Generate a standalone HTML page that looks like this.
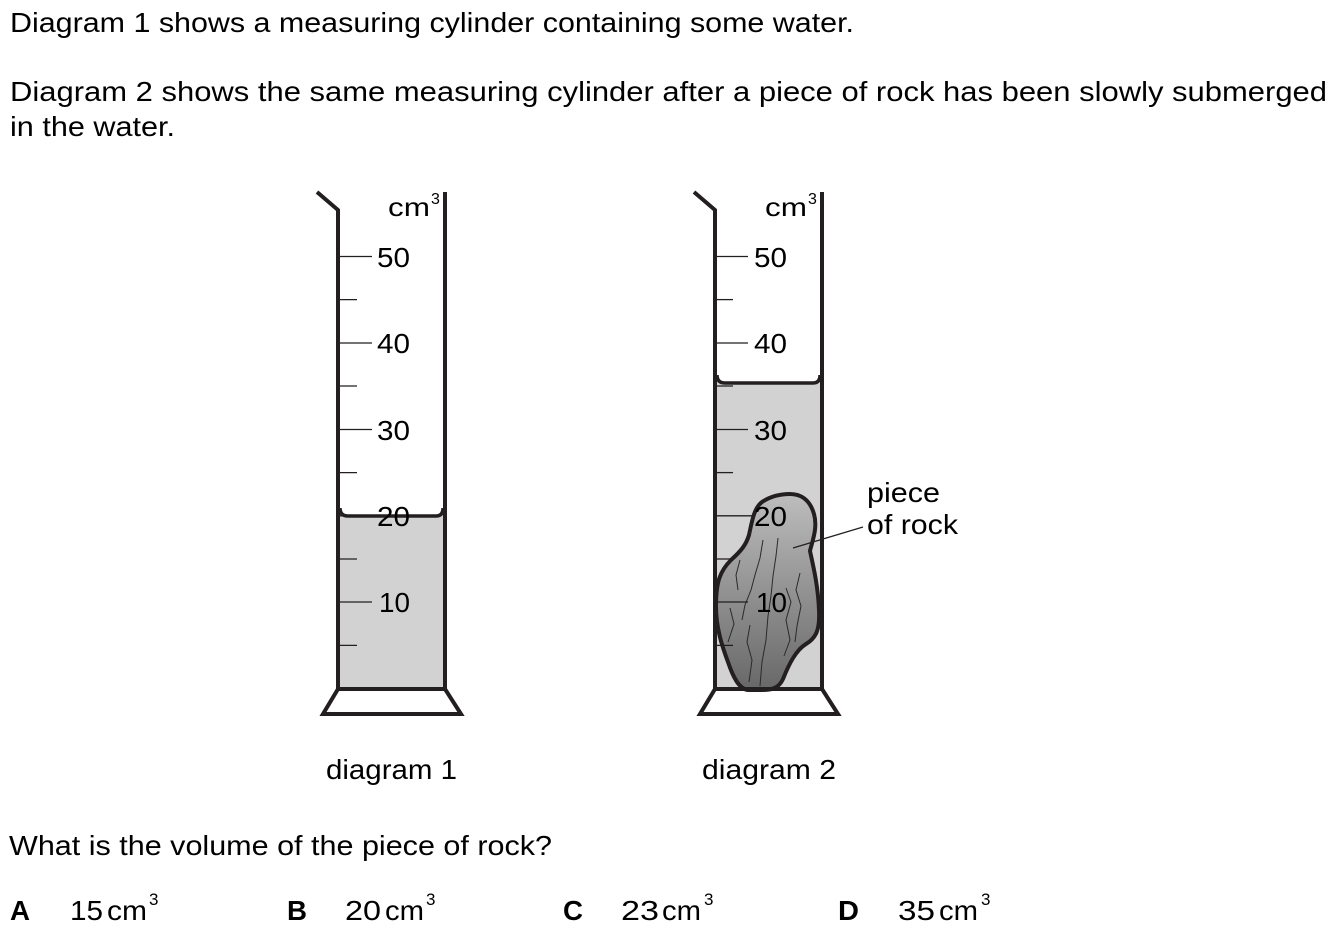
<!DOCTYPE html>
<html><head><meta charset="utf-8"><style>
html,body{margin:0;padding:0;background:#fff;}
svg{display:block;}
text{font-family:"Liberation Sans",Arial,sans-serif;fill:#000;}
</style></head><body>
<svg width="1335" height="937" viewBox="0 0 1335 937" xmlns="http://www.w3.org/2000/svg">
<defs>
<linearGradient id="rk" x1="0" y1="0" x2="0" y2="1">
<stop offset="0" stop-color="#bdbdbd"/>
<stop offset="0.5" stop-color="#929292"/>
<stop offset="1" stop-color="#686868"/>
</linearGradient>
</defs>
<rect width="1335" height="937" fill="#fff"/>

<text x="10" y="32" font-size="28" textLength="844" lengthAdjust="spacingAndGlyphs">Diagram 1 shows a measuring cylinder containing some water.</text>
<text x="10" y="101" font-size="28" textLength="1317" lengthAdjust="spacingAndGlyphs">Diagram 2 shows the same measuring cylinder after a piece of rock has been slowly submerged</text>
<text x="10" y="136" font-size="28" textLength="165" lengthAdjust="spacingAndGlyphs">in the water.</text>

<!-- Cylinder 1 -->
<g>
<path d="M338,510 Q338,516 346,516 L437,516 Q445,516 445,510 L445,689 L338,689 Z" fill="#d2d2d2"/>
<path d="M340,508 Q340,516 348,516 L436,516 Q443,516 443,508" fill="none" stroke="#231f20" stroke-width="3.5"/>
<g stroke="#231f20" stroke-width="1.3">
<line x1="340" y1="256.5" x2="372" y2="256.5"/>
<line x1="340" y1="299.6" x2="357" y2="299.6"/>
<line x1="340" y1="343" x2="372" y2="343"/>
<line x1="340" y1="386" x2="357" y2="386"/>
<line x1="340" y1="429.5" x2="372" y2="429.5"/>
<line x1="340" y1="472.6" x2="357" y2="472.6"/>
<line x1="340" y1="515.8" x2="372" y2="515.8"/>
<line x1="340" y1="559" x2="357" y2="559"/>
<line x1="340" y1="602" x2="372" y2="602"/>
<line x1="340" y1="645.4" x2="357" y2="645.4"/>
</g>
<g font-size="28">
<text x="377" y="267" textLength="33" lengthAdjust="spacingAndGlyphs">50</text>
<text x="377" y="353" textLength="33" lengthAdjust="spacingAndGlyphs">40</text>
<text x="377" y="440" textLength="33" lengthAdjust="spacingAndGlyphs">30</text>
<text x="377" y="526" textLength="33" lengthAdjust="spacingAndGlyphs">20</text>
<text x="379" y="612" textLength="31" lengthAdjust="spacingAndGlyphs">10</text>
</g>
<text x="388" y="216" font-size="26" textLength="42" lengthAdjust="spacingAndGlyphs">cm</text>
<text x="431" y="204" font-size="16">3</text>
<g stroke="#231f20" stroke-width="4" fill="none" stroke-linejoin="miter">
<polyline points="317,192 338,210 338,689"/>
<line x1="445" y1="192" x2="445" y2="689"/>
<polygon points="338,689 445,689 461,714 323,714"/>
</g>
<text x="326" y="779" font-size="28" textLength="131" lengthAdjust="spacingAndGlyphs">diagram 1</text>
</g>

<!-- Cylinder 2 -->
<g>
<path d="M715,377 Q715,383 723,383 L814,383 Q822,383 822,377 L822,689 L715,689 Z" fill="#d2d2d2"/>
<path d="M717,375 Q717,383 725,383 L813,383 Q820,383 820,375" fill="none" stroke="#231f20" stroke-width="3.5"/>
<!-- rock -->
<path d="M790,494 C801,494 810,500 814,514 C818,528 812,542 810,551 C813,565 818,585 819,610 C820,630 816,638 806,644 C796,650 789,664 783,679 C779,688 772,690 762,690 L748,690 C739,689 733,677 728,662 C722,646 716,628 716,606 C716,582 720,571 731,560 C741,551 746,545 749,535 C752,521 754,508 762,502 C771,496 780,494 790,494 Z" fill="url(#rk)" stroke="#231f20" stroke-width="4"/>
<g stroke="#2a2a2a" stroke-width="1" fill="none">
<polyline points="778,538 776,556 773,576 771,596 768,616 766,640 762,662 760,686"/>
<polyline points="763,540 760,558 755,575 751,590 745,605 742,620"/>
<polyline points="800,573 796,590 801,606 797,626 795,642"/>
<polyline points="750,625 747,642 752,660 749,682"/>
<polyline points="730,608 734,624 728,642"/>
<polyline points="786,588 791,602 786,620 790,640 784,656"/>
<polyline points="740,560 736,575 738,590"/>
</g>
<g stroke="#231f20" stroke-width="1.3">
<line x1="717" y1="256.5" x2="748" y2="256.5"/>
<line x1="717" y1="299.6" x2="733" y2="299.6"/>
<line x1="717" y1="343" x2="748" y2="343"/>
<line x1="717" y1="386" x2="733" y2="386"/>
<line x1="717" y1="429.5" x2="748" y2="429.5"/>
<line x1="717" y1="472.6" x2="733" y2="472.6"/>
<line x1="717" y1="515.8" x2="753" y2="515.8"/>
<line x1="717" y1="559" x2="733" y2="559"/>
<line x1="717" y1="602" x2="748" y2="602"/>
<line x1="717" y1="645.4" x2="733" y2="645.4"/>
</g>
<g font-size="28">
<text x="754" y="267" textLength="33" lengthAdjust="spacingAndGlyphs">50</text>
<text x="754" y="353" textLength="33" lengthAdjust="spacingAndGlyphs">40</text>
<text x="754" y="440" textLength="33" lengthAdjust="spacingAndGlyphs">30</text>
<text x="754" y="526" textLength="33" lengthAdjust="spacingAndGlyphs">20</text>
<text x="756" y="612" textLength="31" lengthAdjust="spacingAndGlyphs">10</text>
</g>
<text x="765" y="216" font-size="26" textLength="42" lengthAdjust="spacingAndGlyphs">cm</text>
<text x="808" y="204" font-size="16">3</text>
<g stroke="#231f20" stroke-width="4" fill="none" stroke-linejoin="miter">
<polyline points="694,192 715,210 715,689"/>
<line x1="822" y1="192" x2="822" y2="689"/>
<polygon points="715,689 822,689 838,714 700,714"/>
</g>
<line x1="793" y1="548" x2="863" y2="527" stroke="#231f20" stroke-width="1.2"/>
<text x="867" y="502" font-size="28" textLength="73" lengthAdjust="spacingAndGlyphs">piece</text>
<text x="867" y="534" font-size="28" textLength="91" lengthAdjust="spacingAndGlyphs">of rock</text>
<text x="702" y="779" font-size="28" textLength="134" lengthAdjust="spacingAndGlyphs">diagram 2</text>
</g>

<text x="9" y="855" font-size="28" textLength="543" lengthAdjust="spacingAndGlyphs">What is the volume of the piece of rock?</text>

<g font-size="28">
<text x="10" y="920" font-weight="bold" textLength="20" lengthAdjust="spacingAndGlyphs">A</text>
<text x="70" y="920" textLength="33" lengthAdjust="spacingAndGlyphs">15</text>
<text x="107" y="920" textLength="40" lengthAdjust="spacingAndGlyphs">cm</text>
<text x="149" y="905" font-size="17">3</text>

<text x="287" y="920" font-weight="bold" textLength="20" lengthAdjust="spacingAndGlyphs">B</text>
<text x="345" y="920" textLength="36" lengthAdjust="spacingAndGlyphs">20</text>
<text x="385" y="920" textLength="39" lengthAdjust="spacingAndGlyphs">cm</text>
<text x="426" y="905" font-size="17">3</text>

<text x="563" y="920" font-weight="bold" textLength="20" lengthAdjust="spacingAndGlyphs">C</text>
<text x="621" y="920" textLength="38" lengthAdjust="spacingAndGlyphs">23</text>
<text x="662" y="920" textLength="39" lengthAdjust="spacingAndGlyphs">cm</text>
<text x="704" y="905" font-size="17">3</text>

<text x="838" y="920" font-weight="bold" textLength="21" lengthAdjust="spacingAndGlyphs">D</text>
<text x="898" y="920" textLength="37" lengthAdjust="spacingAndGlyphs">35</text>
<text x="939" y="920" textLength="39" lengthAdjust="spacingAndGlyphs">cm</text>
<text x="981" y="905" font-size="17">3</text>
</g>
</svg>
</body></html>
